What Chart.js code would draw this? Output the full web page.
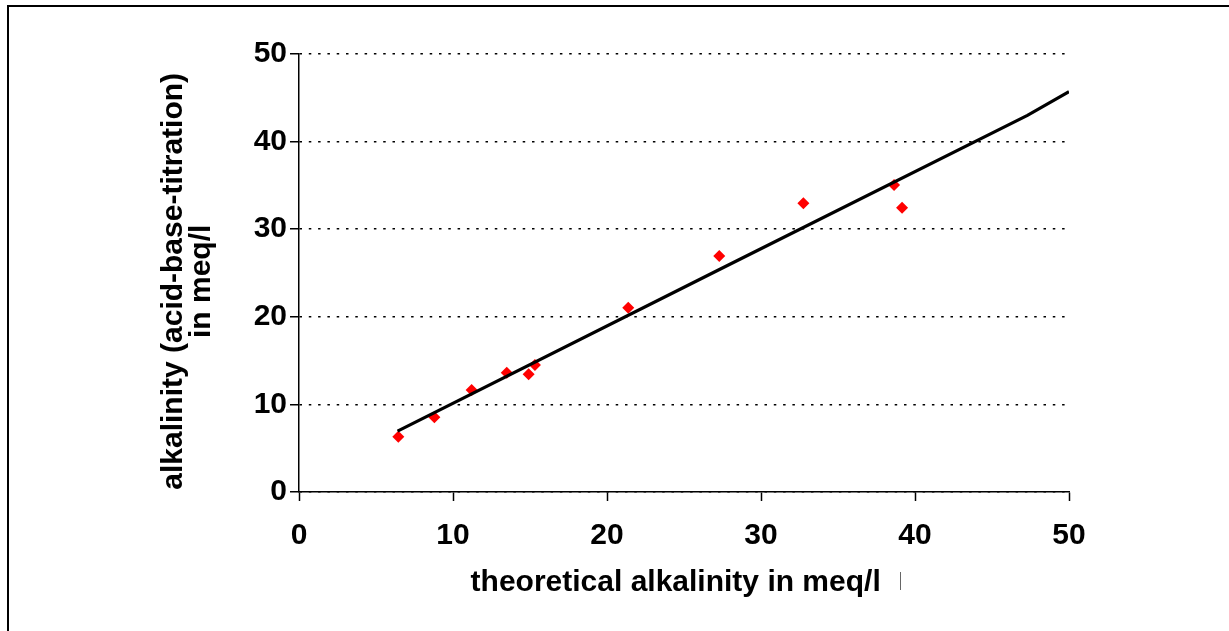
<!DOCTYPE html>
<html>
<head>
<meta charset="utf-8">
<script src="https://cdn.jsdelivr.net/npm/chart.js@4/dist/chart.umd.min.js"></script>
<style>
  html, body { margin: 0; padding: 0; background: #fff; }
  #wrap { position: relative; width: 1229px; height: 631px; overflow: hidden; }
  #frame { position: absolute; left: 7px; top: 5px; right: -20px; bottom: -20px;
           border-top: 2px solid #000; border-left: 2px solid #000; }
  #mark { position: absolute; left: 900px; top: 572px; width: 1px; height: 18px; background: #666; }
  canvas { position: absolute; left: 0; top: 0; }
</style>
</head>
<body>
<div id="wrap">
  <div id="frame"></div>
  <canvas id="chart" width="1229" height="631"></canvas>
  <div id="mark"></div>
</div>
<script>
// measured points
const theoretical = [6.45, 8.79, 11.21, 13.49, 14.91, 15.32, 21.38, 27.29, 32.75, 38.64, 39.16];
const titration   = [6.31, 8.52, 11.64, 13.62, 13.43, 14.50, 21.04, 26.94, 32.96, 35.05, 32.46];

// trend line
const trendX = [6.4, 27.3, 47.3, 50];
const trendY = [6.95, 25.4, 43.0, 45.7];

const axisMin = 0;
const axisMax = 50;
const axisStep = 10;

// trailing spaces nudge the centred titles like in the original
const xTitle = "theoretical alkalinity in meq/l  ";
const yTitle = ["alkalinity (acid-base-titration)  ", "in meq/l  "];

const fontFamily = "'Liberation Sans', Arial, Helvetica, sans-serif";

const points = theoretical.map((x, i) => ({ x: x, y: titration[i] }));
const trend = trendX.map((x, i) => ({ x: x, y: trendY[i] }));

const ctx = document.getElementById("chart").getContext("2d");
new Chart(ctx, {
  type: "scatter",
  data: {
    datasets: [
      {
        label: "trend",
        data: trend,
        showLine: true,
        borderColor: "#000",
        borderWidth: 3.2,
        pointRadius: 0,
        fill: false,
        tension: 0
      },
      {
        label: "samples",
        data: points,
        pointStyle: "rectRot",
        pointRadius: 6,
        backgroundColor: "#ff0000",
        borderColor: "#ff0000",
        borderWidth: 0
      }
    ]
  },
  options: {
    responsive: false,
    animation: false,
    layout: { padding: { left: 0, top: 54, right: 160, bottom: 0 } },
    plugins: {
      legend: { display: false },
      tooltip: { enabled: false }
    },
    scales: {
      x: {
        type: "linear",
        position: "bottom",
        min: axisMin,
        max: axisMax,
        afterFit: (scale) => { scale.height = 139; },
        ticks: {
          stepSize: axisStep,
          color: "#000",
          padding: 17,
          font: { family: fontFamily, size: 30, weight: "bold" }
        },
        grid: {
          drawOnChartArea: false,
          drawTicks: true,
          tickLength: 9,
          tickColor: "#000",
          tickWidth: 1.5
        },
        border: { display: true, color: "#000", width: 1.5 },
        title: {
          display: true,
          text: xTitle,
          color: "#000",
          padding: { top: 0, bottom: 33 },
          font: { family: fontFamily, size: 30, weight: "bold", lineHeight: 1.0 }
        }
      },
      y: {
        type: "linear",
        position: "left",
        min: axisMin,
        max: axisMax,
        afterFit: (scale) => { scale.width = 299; },
        ticks: {
          stepSize: axisStep,
          color: "#000",
          padding: 3,
          font: { family: fontFamily, size: 30, weight: "bold" }
        },
        grid: {
          drawOnChartArea: true,
          color: "#000",
          lineWidth: 1.5,
          drawTicks: true,
          tickLength: 9,
          tickColor: "#000",
          tickWidth: 1.5,
          tickBorderDash: []
        },
        border: { display: true, color: "#000", width: 1.5, dash: [2.5, 6.8] },
        title: {
          display: true,
          text: yTitle,
          color: "#000",
          padding: { top: 160, bottom: 0 },
          font: { family: fontFamily, size: 30, weight: "bold", lineHeight: 0.93 }
        }
      }
    }
  }
});
</script>
</body>
</html>
